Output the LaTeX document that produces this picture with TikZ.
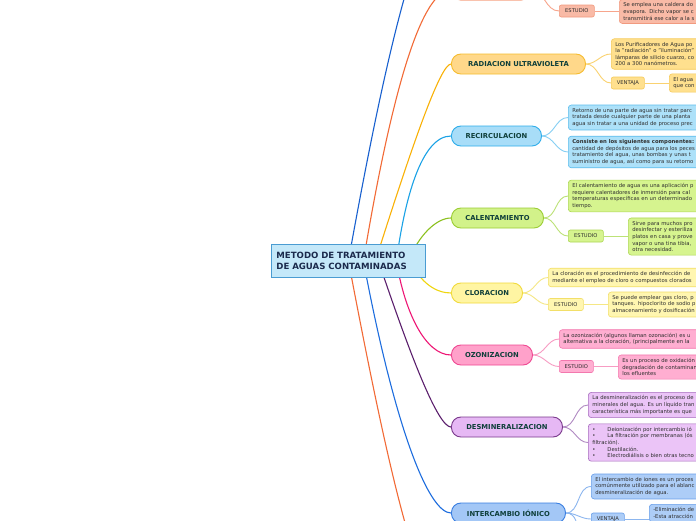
\documentclass[tikz,border=0pt]{standalone}
\usepackage{fontspec}
\setmainfont{DejaVu Sans}

\pgfdeclarelayer{bg}
\pgfdeclarelayer{links}
\pgfsetlayers{bg,links,main}

% root
\definecolor{rootfill}{HTML}{C4E8F9}
\definecolor{rootedge}{HTML}{4A9CD2}
\definecolor{roottext}{HTML}{1B2A4C}
\definecolor{topictext}{HTML}{0F3F3A}
\definecolor{notetext}{HTML}{2E2E2E}
% far lines
\definecolor{fbline}{HTML}{1860CF}
% orange
\definecolor{orline}{HTML}{F26A36}
\definecolor{orfill}{HTML}{F8A486}
\definecolor{oredge}{HTML}{F26A36}
\definecolor{orbox}{HTML}{F9BAA6}
\definecolor{orrim}{HTML}{F19A7F}
\definecolor{orkid}{HTML}{F7A58C}
% radiacion
\definecolor{raline}{HTML}{F9B106}
\definecolor{rafill}{HTML}{FFD88A}
\definecolor{raedge}{HTML}{F6BC2F}
\definecolor{rabox}{HTML}{FFE08E}
\definecolor{rarim}{HTML}{F6CA5A}
\definecolor{rakid}{HTML}{FAD270}
% recirculacion
\definecolor{reline}{HTML}{1AA2E6}
\definecolor{refill}{HTML}{A8DDF8}
\definecolor{reedge}{HTML}{2EADEA}
\definecolor{rebox}{HTML}{ADE1F9}
\definecolor{rerim}{HTML}{5CBDED}
\definecolor{rekid}{HTML}{86CFF3}
% calentamiento
\definecolor{caline}{HTML}{8CC11F}
\definecolor{cafill}{HTML}{D2F28A}
\definecolor{caedge}{HTML}{9BCD33}
\definecolor{cabox}{HTML}{D6F48F}
\definecolor{carim}{HTML}{ADD754}
\definecolor{cakid}{HTML}{BCE277}
% cloracion
\definecolor{clline}{HTML}{EFD60F}
\definecolor{clfill}{HTML}{FFF5A3}
\definecolor{cledge}{HTML}{F1DA3B}
\definecolor{clbox}{HTML}{FFF6B0}
\definecolor{clrim}{HTML}{F2DF69}
\definecolor{clkid}{HTML}{F5E785}
% ozonizacion
\definecolor{ozline}{HTML}{EE1675}
\definecolor{ozfill}{HTML}{FFA1CA}
\definecolor{ozedge}{HTML}{EF4892}
\definecolor{ozbox}{HTML}{FFAED1}
\definecolor{ozrim}{HTML}{F378AE}
\definecolor{ozkid}{HTML}{F79CC3}
% desmineralizacion
\definecolor{deline}{HTML}{5B1F6D}
\definecolor{defill}{HTML}{E6B8F4}
\definecolor{deedge}{HTML}{7A3A8C}
\definecolor{debox}{HTML}{EBC4F7}
\definecolor{derim}{HTML}{A66BBE}
\definecolor{dekid}{HTML}{B089C2}
% intercambio
\definecolor{inline}{HTML}{1D6DDE}
\definecolor{infill}{HTML}{A3C7F6}
\definecolor{inedge}{HTML}{397EE1}
\definecolor{inbox}{HTML}{ADCDF7}
\definecolor{inrim}{HTML}{689EE9}
\definecolor{inkid}{HTML}{8CB6EF}

\newcommand{\listdot}{\textbullet\hspace{12pt}}

\tikzset{
  root/.style={draw=rootedge, fill=rootfill, line width=0.8pt, anchor=north west,
    minimum width=154pt, minimum height=33pt, text width=144pt, inner xsep=5pt,
    align=left, font=\fontsize{8.6}{11}\selectfont\bfseries, text=roottext},
  topic/.style={draw=#1edge, fill=#1fill, line width=0.9pt, rounded corners=9.5pt,
    minimum height=20pt, inner sep=0pt, anchor=west,
    font=\fontsize{6.8}{8}\selectfont\bfseries, text=topictext},
  note/.style={draw=#1rim, fill=#1box, line width=0.6pt, rounded corners=3pt,
    align=left, text width=190pt, inner xsep=4pt, inner ysep=3.3pt, anchor=west,
    font=\fontsize{5.3}{6.6}\selectfont, text=notetext},
  tag/.style={draw=#1rim, fill=#1box, line width=0.6pt, rounded corners=2pt,
    minimum height=12pt, inner sep=0pt, anchor=west,
    font=\fontsize{5.2}{6}\selectfont, text=notetext},
  branch/.style={draw=#1line, line width=1.1pt},
  kid/.style={draw=#1kid, line width=0.9pt},
}

\begin{document}
\begin{tikzpicture}[x=1pt,y=-1pt]
  \useasboundingbox (0,0) rectangle (696,520);
  \begin{pgfonlayer}{bg}
    \fill[white] (0,0) rectangle (696,520);
  \end{pgfonlayer}

  \node[root] (root) at (271,244) {METODO DE TRATAMIENTO\\DE AGUAS CONTAMINADAS};

  % top branch, only its lower edge shows
  \node[topic=or, minimum width=79pt] (top) at (451,-10) {};
  \node[tag=or, minimum width=35pt] (topest) at (559,11) {ESTUDIO};
  \node[note=or] (topnote) at (619,11.5) {Se emplea una caldera do\\evapora. Dicho vapor se c\\transmitirá ese calor a la s};

  % radiacion
  \node[topic=ra, minimum width=134pt] (rad) at (451,64) {RADIACION ULTRAVIOLETA};
  \node[note=ra] (radnote) at (611,54) {Los Purificadores de Agua po\\la "radiación" o "iluminación"\\lámparas de silicio cuarzo, co\\200 a 300 nanómetros.};
  \node[tag=ra, minimum width=33pt] (radven) at (611,83) {VENTAJA};
  \node[note=ra] (radvnote) at (669,83) {El agua\\que con};

  % recirculacion
  \node[topic=re, minimum width=90pt] (rec) at (451,136) {RECIRCULACION};
  \node[note=re] (recnote) at (568,117.5) {Retorno de una parte de agua sin tratar parc\\tratada desde cualquier parte de una planta\\agua sin tratar a una unidad de proceso prec};
  \node[note=re] (recparts) at (568,152) {\textbf{Consiste en los siguientes componentes:}\\cantidad de depósitos de agua para los peces\\tratamiento del agua, unas bombas y unas t\\suministro de agua, así como para su retorno};

  % calentamiento
  \node[topic=ca, minimum width=92pt] (cal) at (451,218) {CALENTAMIENTO};
  \node[note=ca] (calnote) at (568,196) {El calentamiento de agua es una aplicación p\\requiere calentadores de inmersión para cal\\temperaturas específicas en un determinado\\tiempo.};
  \node[tag=ca, minimum width=35pt] (calest) at (568,236) {ESTUDIO};
  \node[note=ca] (calenote) at (628,236.5) {Sirve para muchos pro\\desinfectar y esteriliza\\platos en casa y prove\\vapor o una tina tibia,\\otra necesidad.};

  % cloracion
  \node[topic=cl, minimum width=71pt] (clo) at (451,293) {CLORACION};
  \node[note=cl] (clonote) at (548,277.5) {La cloración es el procedimiento de desinfección de\\mediante el empleo de cloro o compuestos clorados};
  \node[tag=cl, minimum width=35pt] (cloest) at (548,304.5) {ESTUDIO};
  \node[note=cl] (cloenote) at (608,304.5) {Se puede emplear gas cloro, p\\tanques. hipoclorito de sodio p\\almacenamiento y dosificación};

  % ozonizacion
  \node[topic=oz, minimum width=81pt] (ozo) at (451,355) {OZONIZACION};
  \node[note=oz] (ozonote) at (559,339) {La ozonización (algunos llaman ozonación) es u\\alternativa a la cloración, (principalmente en la};
  \node[tag=oz, minimum width=34pt] (ozoest) at (559,366.5) {ESTUDIO};
  \node[note=oz] (ozoenote) at (618,367) {Es un proceso de oxidación\\degradación de contaminan\\los efluentes};

  % desmineralizacion
  \node[topic=de, minimum width=111pt] (des) at (451,427) {DESMINERALIZACION};
  \node[note=de] (desnote) at (588,405) {La desmineralización es el proceso de\\minerales del agua. Es un líquido tran\\característica más importante es que};
  \node[note=de] (deslist) at (588,442.5) {\listdot Deionización por intercambio ió\\\listdot La filtración por membranas (ós\\filtración).\\\listdot Destilación.\\\listdot Electrodiálisis o bien otras tecno};

  % intercambio
  \node[topic=in, minimum width=114pt] (int) at (451,513) {INTERCAMBIO IÓNICO};
  \node[note=in] (intnote) at (591,486.5) {El intercambio de iones es un proces\\comúnmente utilizado para el ablanc\\desmineralización de agua.};
  \node[tag=in, minimum width=33pt] (intven) at (591,519) {VENTAJA};
  \node[note=in, anchor=north west] (intvnote) at (649,504) {-Eliminación de\\-Esta atracción};

  \coordinate (topfar) at (451,-95);  % branch above the page
  \coordinate (botfar) at (451,615);  % branch below the page
  \coordinate (intlow) at (591,560);

  \begin{pgfonlayer}{links}
    % root to topics
    \foreach \dst/\hue/\sx/\cx/\cy/\ex in {topfar/fb/0/36/-200/-31, top.west/or/15/30/-180/-28,
        rad.west/ra/27/35/-110/-11, rec.west/re/48/8/-60/-30, cal.west/ca/60/10/-25/-15,
        clo.west/cl/62/10/22/-15, ozo.west/oz/48/8/50/-26, des.west/de/30/32/95/-13,
        int.west/in/15/32/170/-22, botfar/or/0/38/200/-31}
      \draw[branch=\hue] ([xshift=\sx pt]root.center) .. controls +(\cx,\cy) and +(\ex,0) .. (\dst);
    % topics to notes and tags
    \foreach \src/\dst/\hue in {top/topest/or, rad/radnote/ra, rad/radven/ra, rec/recnote/re,
        rec/recparts/re, cal/calnote/ca, cal/calest/ca, clo/clonote/cl, clo/cloest/cl,
        ozo/ozonote/oz, ozo/ozoest/oz, des/desnote/de, des/deslist/de,
        int/intnote/in, int/intven/in}
      \draw[kid=\hue] (\src.east) to[out=0,in=180] (\dst.west);
    \draw[kid=in] (int.east) to[out=0,in=180] (intlow);
    % tags to notes
    \foreach \src/\dst/\hue in {topest/topnote/or, radven/radvnote/ra, calest/calenote/ca,
        cloest/cloenote/cl, ozoest/ozoenote/oz, intven/intvnote/in}
      \draw[kid=\hue] (\src.east) -- (\src.east -| \dst.west);
  \end{pgfonlayer}
\end{tikzpicture}
\end{document}
